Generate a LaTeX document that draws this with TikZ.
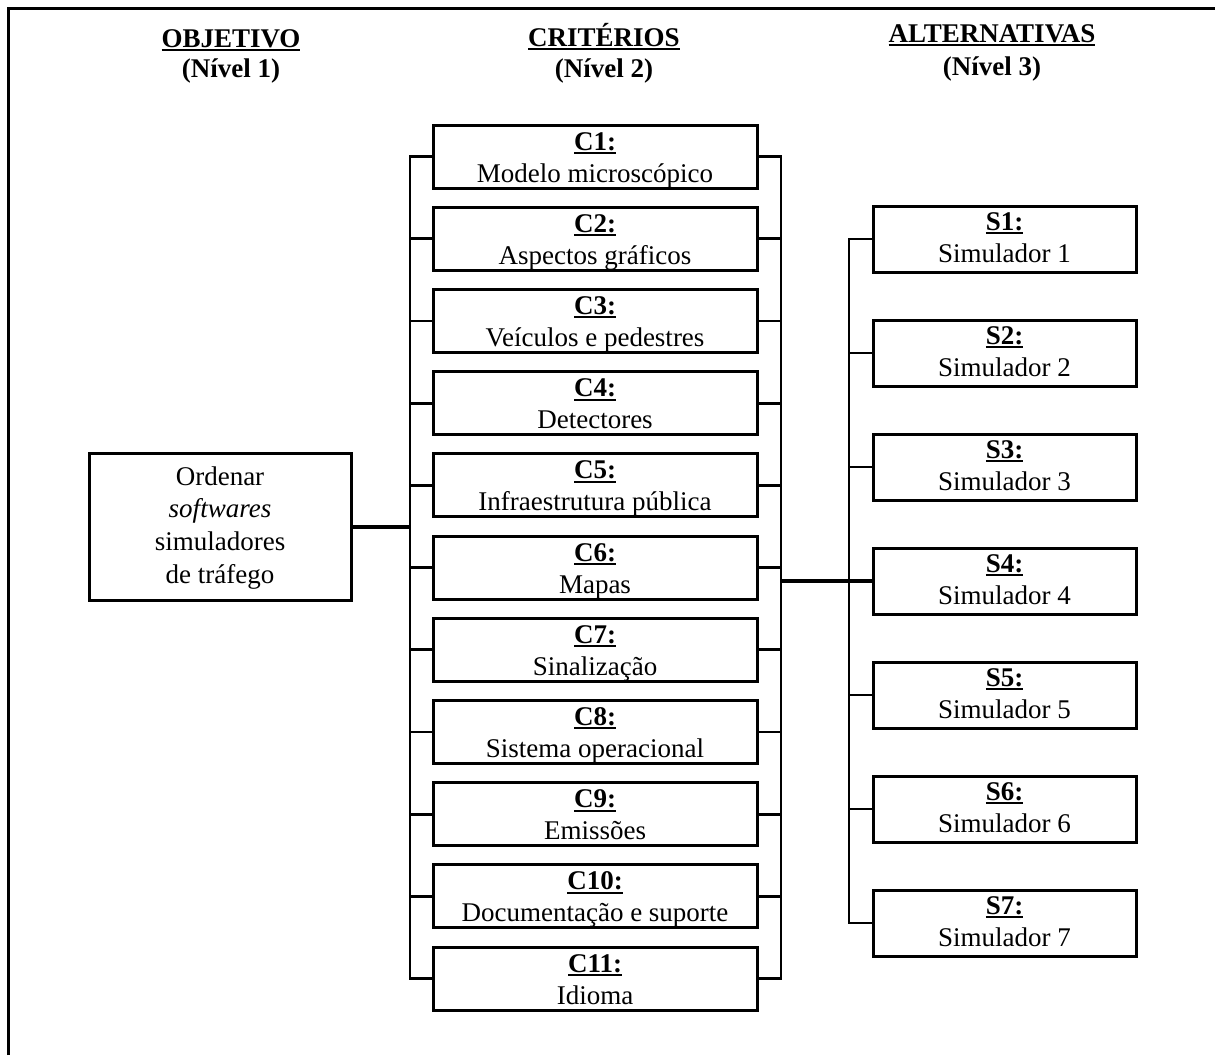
\documentclass[tikz,border=0pt]{standalone}
\usepackage{fontspec}
\setmainfont{Liberation Serif}
% underline drawn as a rule of fixed depth and thickness
\newcommand{\hdul}[1]{\setbox0\hbox{#1}\rlap{\rule[-4pt]{\wd0}{2pt}}\box0}
\begin{document}
\begin{tikzpicture}[x=1pt,y=-1pt,
  every node/.style={font=\fontsize{27}{32}\selectfont, inner sep=0pt},
  cbox/.style={draw, line width=3pt, minimum width=324pt, minimum height=63pt},
  sbox/.style={draw, line width=3pt, minimum width=263pt, minimum height=66pt},
  objbox/.style={draw, line width=3pt, minimum width=262pt, minimum height=147pt},
  conn/.style={line width=2.8pt},
  trunk/.style={line width=4pt},
  txt/.style={anchor=base}]
\useasboundingbox (0,0) rectangle (1215,1055);

% outer frame (left and top edges)
\draw[line width=3pt] (8,1055) -- (8,8) -- (1215,8);

% level headings
\node[txt] (h1)  at (231,47) {\hdul{\textbf{OBJETIVO}}};
\node[txt] (h1n) at (231,77) {\textbf{(Nível 1)}};
\node[txt] (h2)  at (604,46) {\hdul{\textbf{CRITÉRIOS}}};
\node[txt] (h2n) at (604,77) {\textbf{(Nível 2)}};
\node[txt] (h3)  at (992,42) {\hdul{\textbf{ALTERNATIVAS}}};
\node[txt] (h3n) at (992,75) {\textbf{(Nível 3)}};

% objective
\node[objbox] (obj) at (220,526.5) {};
\node[txt] (obj-1) at (220,485)   {Ordenar};
\node[txt] (obj-2) at (220,517.7) {\textit{softwares}};
\node[txt] (obj-3) at (220,550.3) {simuladores};
\node[txt] (obj-4) at (220,583)   {de tráfego};

% criteria
\foreach \i/\t in {1/Modelo microscópico, 2/Aspectos gráficos, 3/Veículos e pedestres,
  4/Detectores, 5/Infraestrutura pública, 6/Mapas, 7/Sinalização,
  8/Sistema operacional, 9/Emissões, 10/Documentação e suporte, 11/Idioma} {
  \pgfmathsetmacro\yc{156.5+82.2*(\i-1)}
  \node[cbox] (c\i) at (595,\yc) {};
  \node[txt] (c\i-l) at (595,\yc-6.5) {\hdul{\textbf{C\i:}}};
  \node[txt] (c\i-t) at (595,\yc+25.5) {\t};
}

% alternatives
\foreach \j in {1,...,7} {
  \pgfmathsetmacro\yc{239+114*(\j-1)}
  \node[sbox] (s\j) at (1004.5,\yc) {};
  \node[txt] (s\j-l) at (1004.5,\yc-9) {\hdul{\textbf{S\j:}}};
  \node[txt] (s\j-t) at (1004.5,\yc+23) {Simulador \j};
}

% bus lines
\coordinate (lbus) at (410,0);
\coordinate (rbus) at (781,0);
\coordinate (sbus) at (849,0);

\draw[conn] (c1.west) -| (lbus |- c11.west) -- (c11.west);
\foreach \i in {2,...,10} \draw[conn] (c\i.west) -- (lbus |- c\i.west);
\draw[conn] (c1.east) -| (rbus |- c11.east) -- (c11.east);
\foreach \i in {2,...,10} \draw[conn] (c\i.east) -- (rbus |- c\i.east);
\draw[conn] (s1.west) -| (sbus |- s7.west) -- (s7.west);
\foreach \j in {2,...,6} \draw[conn] (s\j.west) -- (sbus |- s\j.west);

\draw[trunk] (obj.east) -- (lbus |- obj.east);
\draw[trunk] (rbus |- s4.west) -- (s4.west);
\end{tikzpicture}
\end{document}
